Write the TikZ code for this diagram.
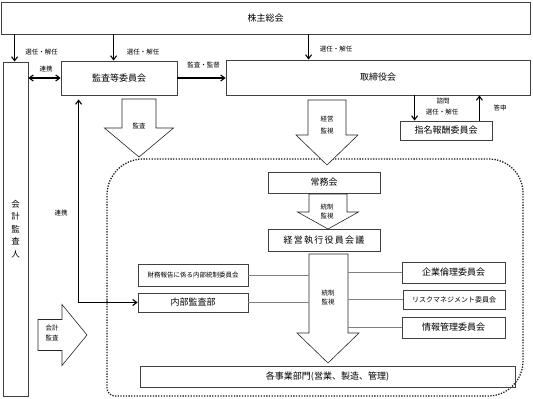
\documentclass[tikz,border=0pt]{standalone}
\usepackage{fontspec}
\setmainfont{Noto Sans CJK JP}
\usetikzlibrary{arrows.meta,calc}

\begin{document}
\begin{tikzpicture}[x=1pt, y=-1pt,
    every node/.style={inner sep=0pt, font=\fontsize{9}{11}\selectfont},
    box/.style={draw=black!75, line width=0.8pt, rectangle},
    lbl/.style={font=\fontsize{6.5}{10}\selectfont, align=center},
    blk/.style={draw=black!85, line width=0.6pt, fill=white, line join=miter},
    link/.style={-{Straight Barb[length=4pt,width=6pt]}, line width=1.1pt},
    dlink/.style={{Straight Barb[length=4pt,width=6pt]}-{Straight Barb[length=4pt,width=6pt]}, line width=1.1pt},
    fine/.style={draw=black!50, line width=0.7pt}]
  \useasboundingbox (0,0) rectangle (533,399);

  % outer dotted area
  \draw[dash pattern=on 1.3pt off 1.4pt, line width=1.3pt, black!90]
    (107,300) [rounded corners=36pt] -- (107,159) -- (300,159)
    [rounded corners=34pt] -- (523,159) -- (523,300)
    [rounded corners=35pt] -- (523,396) -- (300,396)
    [rounded corners=8pt] -- (107,396) -- (107,300);

  % boxes
  \node[box, minimum width=529, minimum height=32] (kabu) at (265.5,18) {株主総会};
  \node[box, minimum width=25, minimum height=334, align=center,
        font=\fontsize{8.5}{12.5}\selectfont] (kaikei) at (15.5,229) {会\\計\\監\\査\\人};
  \node[box, minimum width=116, minimum height=34] (kansa) at (119,78) {監査等委員会};
  \node[box, minimum width=304, minimum height=35] (torishimari) at (378,77.5) {取締役会};
  \node[box, minimum width=92, minimum height=19] (shimei) at (446,130.5) {指名報酬委員会};
  \node[box, minimum width=112, minimum height=21] (joumu) at (324,182.5) {常務会};
  \node[box, minimum width=112, minimum height=22] (shikkou) at (324,240)
        {\addfontfeature{LetterSpace=14}経営執行役員会議};
  \node[box, minimum width=110, minimum height=22, font=\fontsize{6.5}{8}\selectfont] (zaimu) at (193,275) {財務報告に係る内部統制委員会};
  \node[box, minimum width=110, minimum height=19] (naibu) at (193,302.5) {内部監査部};
  \node[box, minimum width=103, minimum height=21] (rinri) at (453.5,272.5) {企業倫理委員会};
  \node[box, minimum width=102, minimum height=19, font=\fontsize{7}{8}\selectfont] (risk) at (454,299.5) {リスクマネジメント委員会};
  \node[box, minimum width=103, minimum height=21] (jouhou) at (453.5,327.5) {情報管理委員会};
  \node[box, minimum width=375, minimum height=21] (jigyou) at (327.5,376.5) {各事業部門(営業、製造、管理)};

  % block arrows, drawn from their tips
  \coordinate (kansaTip) at (139,157);
  \coordinate (keieiTip) at (327,165);
  \coordinate (touseiTipA) at (328,229);
  \coordinate (touseiTipB) at (328,363);
  \coordinate (kaikeiTip) at (87,335);
  \draw[blk] (kansaTip) -- ++(-34.5,-29) -- ++(17.5,0) -- ++(0,-29) -- ++(34,0)
    -- ++(0,29) -- ++(17.5,0) -- cycle;
  \draw[blk] (keieiTip) -- ++(-31,-30) -- ++(12,0) -- ++(0,-35) -- ++(38,0)
    -- ++(0,35) -- ++(12,0) -- cycle;
  \draw[blk] (touseiTipA) -- ++(-30.5,-17) -- ++(11.5,0) -- ++(0,-18) -- ++(38,0)
    -- ++(0,18) -- ++(11.5,0) -- cycle;
  \draw[blk] (touseiTipB) -- ++(-31,-30) -- ++(12,0) -- ++(0,-79) -- ++(39,0)
    -- ++(0,79) -- ++(11,0) -- cycle;
  \draw[blk] (kaikeiTip) -- ++(-25,-30.5) -- ++(0,15) -- ++(-24,0) -- ++(0,31)
    -- ++(24,0) -- ++(0,15) -- cycle;

  % arrows
  \path (kabu.south west) ++(14,0) coordinate (selK) ++(99,0) coordinate (selA) ++(195,0) coordinate (selT);
  \draw[link] (selK) -- (selK |- kaikei.north);
  \draw[link] (selA) -- (selA |- kansa.north);
  \draw[link] (selT) -- (selT |- torishimari.north);
  \draw[dlink] (kaikei.east |- kansa.west) -- (kansa.west);
  \draw[link] (kansa.east) -- (kansa.east -| torishimari.west);
  \path (shimei.north west) ++(15,0) coordinate (shimonB);
  \path (shimei.north east) ++(-13,0) coordinate (toushinB);
  \draw[link] (shimonB |- torishimari.south) -- (shimonB);
  \draw[link] (toushinB) -- (toushinB |- torishimari.south);
  \path (kansa.south west) ++(18,4) coordinate (renkeiB);
  \draw[dlink] (renkeiB) |- (naibu.west);

  % thin lines to the shaft
  \coordinate (shaftL) at (309,300);
  \coordinate (shaftR) at (348,300);
  \draw[fine] (zaimu.east) -- (zaimu.east -| shaftL);
  \draw[fine] (naibu.east) -- (naibu.east -| shaftL);
  \draw[fine] (rinri.west -| shaftR) -- (rinri.west);
  \draw[fine] (risk.west -| shaftR) -- (risk.west);
  \draw[fine] (jouhou.west -| shaftR) -- (jouhou.west);

  % labels
  \node[lbl] (t1) at (139,126) {監査};
  \node[lbl, font=\fontsize{6.5}{12}\selectfont] (t2) at (327,125) {経営\\監視};
  \node[lbl, font=\fontsize{6.5}{9.5}\selectfont] (t3) at (327,211.5) {統制\\監視};
  \node[lbl, font=\fontsize{6.5}{9.5}\selectfont] (t4) at (328,297.5) {統制\\監視};
  \node[lbl] (t5) at (52,333) {会計\\監査};
  \node[lbl] (l1) at (41.5,52) {選任・解任};
  \node[lbl] (l2) at (143,52) {選任・解任};
  \node[lbl] (l3) at (336,49) {選任・解任};
  \node[lbl] (l4) at (46,69) {連携};
  \node[lbl] (l5) at (203.5,65) {監査・監督};
  \node[lbl] (l6) at (443,101) {諮問};
  \node[lbl] (l7) at (442,112.5) {選任・解任};
  \node[lbl] (l8) at (500,108) {答申};
  \node[lbl] (l9) at (61,213) {連携};
\end{tikzpicture}
\end{document}
